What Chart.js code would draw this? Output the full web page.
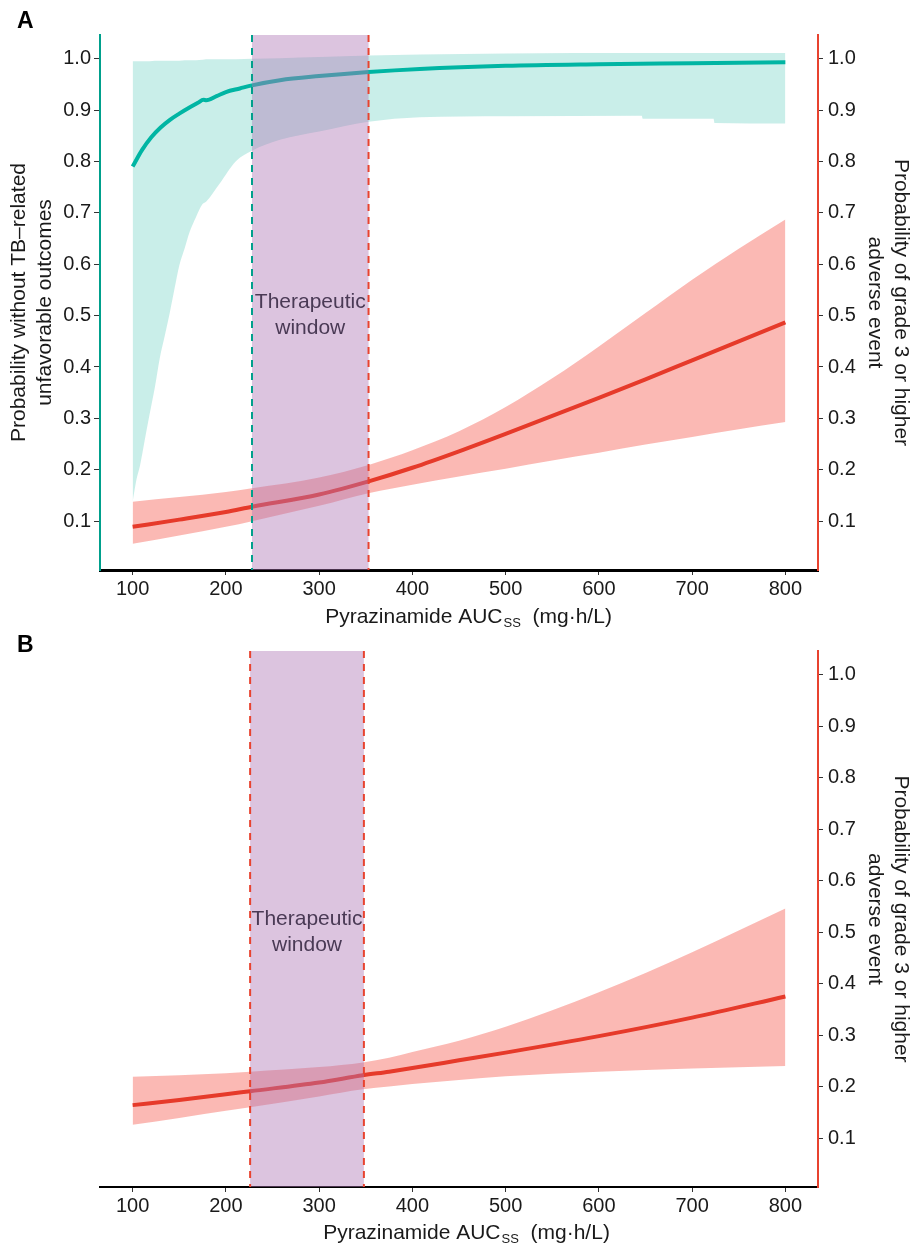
<!DOCTYPE html>
<html>
<head>
<meta charset="utf-8">
<script src="https://cdn.jsdelivr.net/npm/chart.js@4.4.1/dist/chart.umd.min.js"></script>
<style>
  body { margin: 0; background: #fff; }
  #wrap { position: relative; width: 913px; height: 1244px; }
  canvas { position: absolute; left: 0; }
</style>
</head>
<body>
<div id="wrap">
  <canvas id="chartA" width="913" height="630" style="top:0"></canvas>
  <canvas id="chartB" width="913" height="622" style="top:622px"></canvas>
</div>
<script>
// 1 data
const xTicks = [100, 200, 300, 400, 500, 600, 700, 800];
const yTicks = [0.1, 0.2, 0.3, 0.4, 0.5, 0.6, 0.7, 0.8, 0.9, 1.0];

// panel A - probability without TB-related unfavorable outcomes (left axis)
const tealLineX = [100, 110, 120, 130, 140, 150, 160, 170, 176, 179, 190, 200, 215, 228, 258, 300, 353, 408, 500, 600, 700, 800];
const tealLineY = [0.790, 0.822, 0.847, 0.866, 0.881, 0.893, 0.904, 0.914, 0.920, 0.919, 0.927, 0.935, 0.942, 0.948, 0.958, 0.966, 0.974, 0.980, 0.986, 0.989, 0.991, 0.993];
const tealBandX = [100, 104, 108, 113, 118, 124, 129, 135, 140, 145, 150, 156, 161, 168, 175, 179, 193, 211, 228, 258, 300, 353, 408, 500, 646, 647, 723, 724, 800];
const tealLow = [0.138, 0.180, 0.209, 0.258, 0.306, 0.362, 0.416, 0.465, 0.507, 0.553, 0.597, 0.632, 0.662, 0.692, 0.717, 0.722, 0.756, 0.801, 0.821, 0.842, 0.858, 0.877, 0.886, 0.888, 0.889, 0.883, 0.883, 0.875, 0.874];
const tealHigh = [0.995, 0.995, 0.995, 0.995, 0.995, 0.996, 0.996, 0.996, 0.996, 0.996, 0.996, 0.997, 0.997, 0.997, 0.998, 0.999, 0.999, 0.999, 1.000, 1.001, 1.003, 1.006, 1.008, 1.010, 1.011, 1.011, 1.011, 1.011, 1.011];

// panel A - grade 3+ adverse event (right axis)
const redAX = [100, 150, 200, 228, 300, 354, 400, 450, 500, 550, 600, 650, 700, 750, 800];
const redALine = [0.089, 0.103, 0.118, 0.128, 0.152, 0.178, 0.204, 0.236, 0.270, 0.305, 0.340, 0.376, 0.413, 0.450, 0.487];
const redAHigh = [0.138, 0.147, 0.157, 0.164, 0.185, 0.210, 0.238, 0.275, 0.322, 0.378, 0.440, 0.505, 0.570, 0.630, 0.687];
const redALow = [0.056, 0.072, 0.089, 0.100, 0.130, 0.155, 0.171, 0.187, 0.202, 0.218, 0.233, 0.249, 0.264, 0.279, 0.293];

// panel B - grade 3+ adverse event
const redBX = [100, 150, 200, 226, 300, 347, 375, 400, 450, 500, 600, 700, 800];
const redBLine = [0.164, 0.174, 0.185, 0.191, 0.208, 0.222, 0.229, 0.236, 0.251, 0.266, 0.298, 0.334, 0.375];
const redBHigh = [0.219, 0.222, 0.226, 0.229, 0.238, 0.247, 0.256, 0.267, 0.289, 0.316, 0.383, 0.461, 0.546];
const redBLow = [0.126, 0.139, 0.153, 0.160, 0.181, 0.195, 0.200, 0.205, 0.213, 0.220, 0.229, 0.235, 0.240];

// therapeutic windows (AUC)
const windowA = [228, 353];
const windowB = [226, 348];

// 2 colours
const TEAL = "#00b5a3";
const TEAL_AXIS = "#00a08c";
const TEAL_BAND = "rgba(0,175,150,0.21)";
const RED = "#e63a2a";
const RED_AXIS = "#e8432f";
const RED_BAND = "rgba(245,80,68,0.4)";
const PURPLE = "rgba(173,119,180,0.43)";
const FONT = '"Liberation Sans", Arial, Helvetica, sans-serif';

Chart.defaults.font.family = FONT;
Chart.defaults.font.size = 20;
Chart.defaults.color = "#1a1a1a";

function pts(xs, ys) {
  return xs.map((x, i) => ({ x: x, y: ys[i] }));
}

// shaded window + dashed borders + label
const windowPlugin = {
  id: "therapeuticWindow",
  afterDatasetsDraw(chart, args, opts) {
    const { ctx, chartArea } = chart;
    const xs = chart.scales.x;
    const ys = chart.scales.yR;
    const x0 = xs.getPixelForValue(opts.from);
    const x1 = xs.getPixelForValue(opts.to);
    ctx.save();
    ctx.fillStyle = PURPLE;
    ctx.fillRect(x0, chartArea.top, x1 - x0, chartArea.bottom - chartArea.top);
    ctx.lineWidth = 2;
    ctx.setLineDash([7, 6]);
    [[x0, opts.leftColor], [x1, opts.rightColor]].forEach(([px, col]) => {
      ctx.strokeStyle = col;
      ctx.beginPath();
      ctx.moveTo(px, chartArea.top);
      ctx.lineTo(px, chartArea.bottom);
      ctx.stroke();
    });
    ctx.setLineDash([]);
    ctx.fillStyle = "#4a3a55";
    ctx.font = "21px " + FONT;
    ctx.textAlign = "center";
    ctx.textBaseline = "middle";
    const cy = ys.getPixelForValue(0.5);
    ctx.fillText("Therapeutic", (x0 + x1) / 2, cy - 13);
    ctx.fillText("window", (x0 + x1) / 2, cy + 13);
    ctx.restore();
  }
};

// panel letter + x title with subscript
const textPlugin = {
  id: "panelText",
  afterDraw(chart, args, opts) {
    const ctx = chart.ctx;
    ctx.save();
    ctx.fillStyle = "#000";
    ctx.textAlign = "left";
    ctx.textBaseline = "alphabetic";
    ctx.font = "bold 23px " + FONT;
    ctx.fillText(opts.letter, opts.letterX, opts.letterY);

    const big = "21px " + FONT, small = "13px " + FONT;
    const a = "Pyrazinamide AUC", s = "SS", b = "  (mg\u00b7h/L)";
    ctx.fillStyle = "#1a1a1a";
    ctx.font = big;
    const wa = ctx.measureText(a).width, wb = ctx.measureText(b).width;
    ctx.font = small;
    const ws = ctx.measureText(s).width;
    let x = opts.titleX - (wa + ws + wb) / 2;
    ctx.font = big;
    ctx.fillText(a, x, opts.titleY);
    x += wa;
    ctx.font = small;
    ctx.fillText(s, x + 1, opts.titleY + 4);
    x += ws + 1;
    ctx.font = big;
    ctx.fillText(b, x, opts.titleY);
    ctx.restore();
  }
};

function fixTicks(list) {
  return function (scale) {
    scale.ticks = list.map(v => ({ value: v }));
  };
}

function xScale(height, borderWidth) {
  return {
    type: "linear",
    position: "bottom",
    min: 65,
    max: 835,
    afterBuildTicks: fixTicks(xTicks),
    afterFit: s => { s.height = height; },
    border: { display: true, color: "#000", width: borderWidth },
    grid: { display: true, drawOnChartArea: false, drawTicks: true, tickLength: 5, tickColor: "#333", tickWidth: 1 },
    ticks: { padding: 2, maxRotation: 0, autoSkip: false }
  };
}

function rightScale() {
  return {
    type: "linear",
    position: "right",
    min: 0.005,
    max: 1.046,
    afterBuildTicks: fixTicks(yTicks),
    afterFit: s => { s.width = 95; },
    border: { display: true, color: RED_AXIS, width: 2 },
    grid: { display: true, drawOnChartArea: false, drawTicks: true, tickLength: 5, tickColor: "#333", tickWidth: 1 },
    ticks: { padding: 5, callback: v => v.toFixed(1) },
    title: {
      display: true,
      text: ["Probability of grade 3 or higher", "adverse event"],
      font: { size: 21, lineHeight: 1.2 },
      color: "#1a1a1a",
      padding: { top: 0, bottom: 0 }
    }
  };
}

function lineSet(data, color, axis) {
  return { data: data, borderColor: color, borderWidth: 4, pointRadius: 0, fill: false,
           cubicInterpolationMode: "monotone", yAxisID: axis };
}
function bandSet(data, axis, fill, color) {
  return { data: data, borderWidth: 0, borderColor: "rgba(0,0,0,0)", pointRadius: 0, fill: fill,
           backgroundColor: color, cubicInterpolationMode: "monotone", yAxisID: axis };
}

// 3 panel A
new Chart(document.getElementById("chartA"), {
  type: "line",
  data: {
    datasets: [
      lineSet(pts(redAX, redALine), RED, "yR"),
      lineSet(pts(tealLineX, tealLineY), TEAL, "yL"),
      bandSet(pts(redAX, redAHigh), "yR", 3, RED_BAND),
      bandSet(pts(redAX, redALow), "yR", false, RED_BAND),
      bandSet(pts(tealBandX, tealHigh), "yL", 5, TEAL_BAND),
      bandSet(pts(tealBandX, tealLow), "yL", false, TEAL_BAND)
    ]
  },
  options: {
    responsive: false,
    animation: false,
    devicePixelRatio: 1,
    layout: { padding: { top: 35, left: 0, right: 0, bottom: 0 } },
    scales: {
      x: xScale(60, 3),
      yL: {
        type: "linear",
        position: "left",
        min: 0.005,
        max: 1.046,
        afterBuildTicks: fixTicks(yTicks),
        afterFit: s => { s.width = 100; },
        border: { display: true, color: TEAL_AXIS, width: 2 },
        grid: { display: true, drawOnChartArea: false, drawTicks: true, tickLength: 6, tickColor: "#333", tickWidth: 1 },
        ticks: { padding: 3, callback: v => v.toFixed(1) },
        title: {
          display: true,
          text: ["Probability without TB\u2013related", "unfavorable outcomes"],
          font: { size: 21, lineHeight: 1.2 },
          color: "#1a1a1a",
          padding: { top: 7, bottom: 0 }
        }
      },
      yR: rightScale()
    },
    plugins: {
      legend: { display: false },
      tooltip: { enabled: false },
      therapeuticWindow: { from: windowA[0], to: windowA[1], leftColor: TEAL_AXIS, rightColor: RED_AXIS },
      panelText: { letter: "A", letterX: 17, letterY: 28, titleX: 468, titleY: 623 }
    }
  },
  plugins: [windowPlugin, textPlugin]
});

// 4 panel B
new Chart(document.getElementById("chartB"), {
  type: "line",
  data: {
    datasets: [
      lineSet(pts(redBX, redBLine), RED, "yR"),
      bandSet(pts(redBX, redBHigh), "yR", 2, RED_BAND),
      bandSet(pts(redBX, redBLow), "yR", false, RED_BAND)
    ]
  },
  options: {
    responsive: false,
    animation: false,
    devicePixelRatio: 1,
    layout: { padding: { top: 29, left: 100, right: 0, bottom: 0 } },
    scales: {
      x: xScale(57, 2),
      yR: rightScale()
    },
    plugins: {
      legend: { display: false },
      tooltip: { enabled: false },
      therapeuticWindow: { from: windowB[0], to: windowB[1], leftColor: RED_AXIS, rightColor: RED_AXIS },
      panelText: { letter: "B", letterX: 17, letterY: 30, titleX: 466, titleY: 617 }
    }
  },
  plugins: [windowPlugin, textPlugin]
});
</script>
</body>
</html>
